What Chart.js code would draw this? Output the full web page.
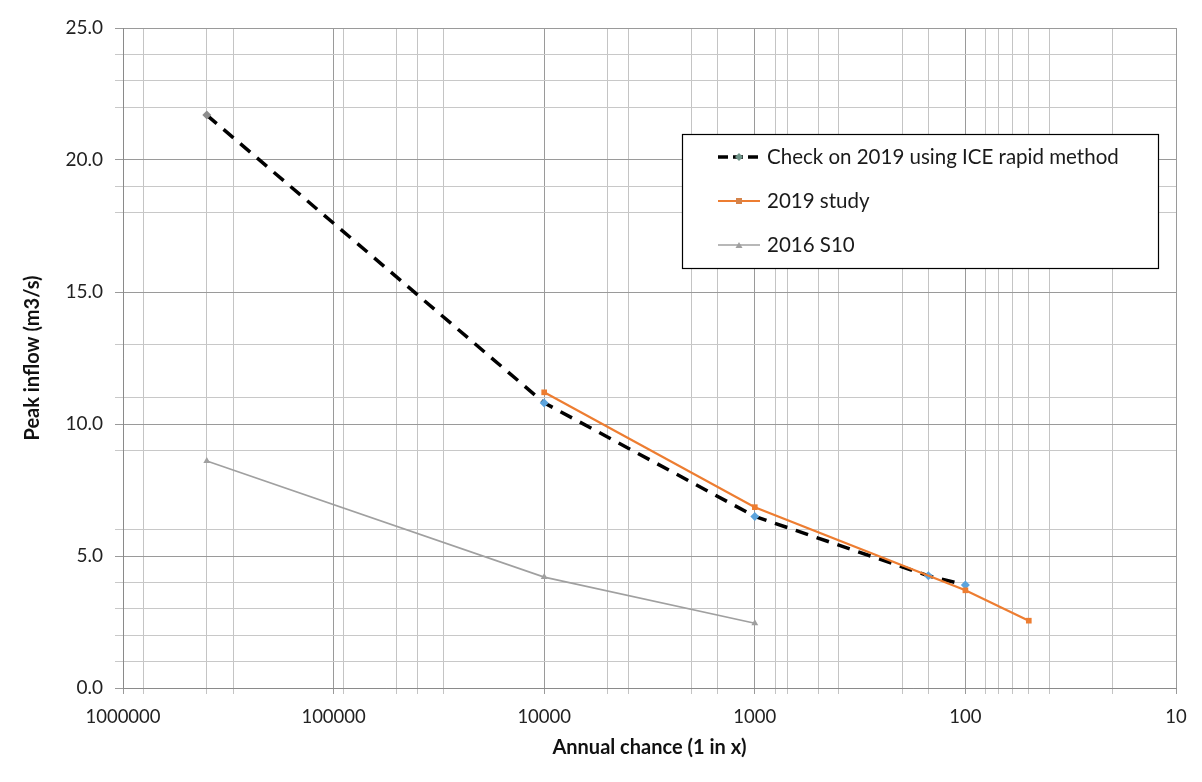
<!DOCTYPE html>
<html>
<head>
<meta charset="utf-8">
<script src="https://cdn.jsdelivr.net/npm/chart.js@4.4.1/dist/chart.umd.min.js"></script>
<style>
  html, body { margin: 0; padding: 0; background: #ffffff; }
  #wrap { width: 1202px; height: 782px; position: relative; }
</style>
</head>
<body>
<div id="wrap"><canvas id="chart" width="1202" height="782"></canvas></div>
<script>
// Annual chance (1 in x) and peak inflow values
const checkX = [400000, 10000, 1000, 150, 100];
const checkY = [21.7, 10.8, 6.5, 4.25, 3.9];

const studyX = [10000, 1000, 100, 50];
const studyY = [11.2, 6.85, 3.7, 2.55];

const s10X = [400000, 10000, 1000];
const s10Y = [8.6, 4.2, 2.45];

const seriesNames = ['Check on 2019 using ICE rapid method', '2019 study', '2016 S10'];
const xTickLabels = ['1000000', '100000', '10000', '1000', '100', '10'];

// minor gridlines that show in the original (significands per decade)
const minorX = { 5: [8, 4, 3], 4: [9, 5, 4, 3], 3: [5, 4, 2], 2: [8, 7, 5, 4, 2], 1: [8, 7, 6, 5, 4, 2] };
const minorY = [1, 2, 3, 4, 6, 9, 11, 13, 18, 19, 22, 23, 24];

const FONT = 'Lato, "Open Sans", sans-serif';

function toPoints(xs, ys) {
    return xs.map((x, i) => ({ x: x, y: ys[i] }));
}

function xGridColor(c) {
    const v = c.tick ? c.tick.value : 0;
    const e = Math.floor(Math.log10(v) + 1e-9);
    const s = Math.round(v / Math.pow(10, e));
    if (s === 1) return '#9a9a9a';
    return (minorX[e] || []).includes(s) ? '#c4c4c4' : 'rgba(0,0,0,0)';
}

function yGridColor(c) {
    const v = c.tick ? c.tick.value : 0;
    if (v % 5 === 0) return '#9a9a9a';
    return minorY.includes(v) ? '#c8c8c8' : 'rgba(0,0,0,0)';
}

// Legend drawn as a boxed panel, like the spreadsheet one
const boxLegend = {
    id: 'boxLegend',
    afterDraw(chart) {
        const c = chart.ctx;
        const left = 682, top = 134, w = 476, h = 134;
        c.save();
        c.fillStyle = '#ffffff';
        c.fillRect(left, top, w, h);
        c.strokeStyle = '#000000';
        c.lineWidth = 1.2;
        c.strokeRect(left + 0.5, top + 0.5, w, h);

        const rows = [157, 201, 245];
        chart.data.datasets.forEach((ds, i) => {
            const y = rows[i];
            c.save();
            c.strokeStyle = ds.borderColor;
            c.lineWidth = ds.borderWidth;
            c.setLineDash(i === 0 ? [10, 5] : []);
            c.beginPath();
            c.moveTo(718, y);
            c.lineTo(760, y);
            c.stroke();
            c.restore();
            // marker in the middle of the sample line
            c.fillStyle = ds.legendMarker;
            c.beginPath();
            if (i === 0) {
                c.moveTo(739, y - 4); c.lineTo(743, y); c.lineTo(739, y + 4); c.lineTo(735, y);
            } else if (i === 1) {
                c.rect(736, y - 3, 6, 6);
            } else {
                c.moveTo(739, y - 3); c.lineTo(742.5, y + 3); c.lineTo(735.5, y + 3);
            }
            c.closePath();
            c.fill();
            c.fillStyle = '#1a1a1a';
            c.font = '20.5px ' + FONT;
            c.textBaseline = 'middle';
            c.fillText(seriesNames[i], 767, y);
        });
        c.restore();
    }
};

const ctx = document.getElementById('chart').getContext('2d');
const chart = new Chart(ctx, {
    type: 'line',
    data: {
        datasets: [
            {
                label: seriesNames[0],
                data: toPoints(checkX, checkY),
                borderColor: '#000000',
                borderWidth: 3.5,
                borderDash: [13, 9],
                pointStyle: 'rectRot',
                pointRadius: 4.5,
                pointBackgroundColor: ['#8d8d8d', '#5ba3dc', '#5ba3dc', '#5ba3dc', '#5ba3dc'],
                pointBorderWidth: 0,
                legendMarker: '#6f9488',
                tension: 0,
                order: 2
            },
            {
                label: seriesNames[1],
                data: toPoints(studyX, studyY),
                borderColor: '#ed7d31',
                borderWidth: 2.2,
                pointStyle: 'rect',
                pointRadius: 4,
                pointBackgroundColor: '#ed7d31',
                pointBorderWidth: 0,
                legendMarker: '#d5834a',
                tension: 0,
                order: 1
            },
            {
                label: seriesNames[2],
                data: toPoints(s10X, s10Y),
                borderColor: '#a0a0a0',
                borderWidth: 1.6,
                pointStyle: 'triangle',
                pointRadius: 4,
                pointBackgroundColor: '#a0a0a0',
                pointBorderWidth: 0,
                legendMarker: '#a0a0a0',
                tension: 0,
                order: 3
            }
        ]
    },
    options: {
        responsive: false,
        animation: false,
        layout: { padding: { top: 28, right: 26, left: 0, bottom: 0 } },
        plugins: {
            legend: { display: false },
            tooltip: { enabled: false }
        },
        scales: {
            x: {
                type: 'logarithmic',
                reverse: true,
                min: 10,
                max: 1000000,
                border: { color: '#8a8a8a', width: 1 },
                grid: {
                    color: xGridColor,
                    lineWidth: 1,
                    tickLength: 6
                },
                ticks: {
                    autoSkip: false,
                    maxRotation: 0,
                    padding: 12,
                    color: '#222222',
                    font: { family: FONT, size: 18.5 },
                    callback: (v) => {
                        const s = String(v);
                        return xTickLabels.includes(s) ? s : '';
                    }
                },
                title: {
                    display: true,
                    text: 'Annual chance (1 in x)',
                    color: '#111111',
                    font: { family: FONT, size: 20, weight: 'bold' },
                    padding: { top: 0, bottom: 22 }
                },
                afterFit: (axis) => { axis.height = 94; }
            },
            y: {
                min: 0,
                max: 25,
                border: { color: '#8a8a8a', width: 1 },
                grid: {
                    color: yGridColor,
                    lineWidth: 1,
                    tickLength: 8
                },
                ticks: {
                    stepSize: 1,
                    autoSkip: false,
                    padding: 12,
                    color: '#222222',
                    font: { family: FONT, size: 19 },
                    callback: (v) => (v % 5 === 0 ? v.toFixed(1) : '')
                },
                title: {
                    display: true,
                    text: 'Peak inflow (m3/s)',
                    color: '#111111',
                    font: { family: FONT, size: 20, weight: 'bold' },
                    padding: { top: 21, bottom: 0 }
                },
                afterFit: (axis) => { axis.width = 123; }
            }
        }
    },
    plugins: [boxLegend]
});
</script>
</body>
</html>
